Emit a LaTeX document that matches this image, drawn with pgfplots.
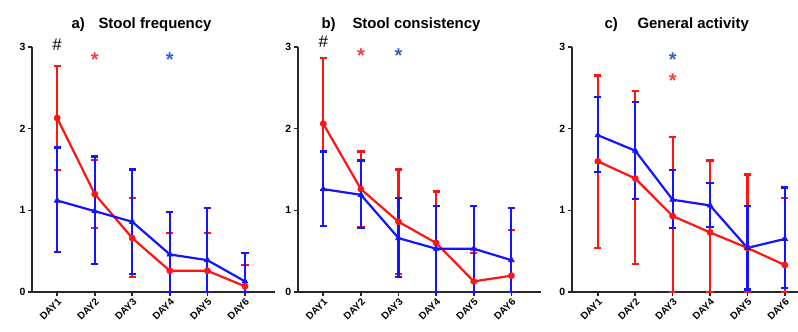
\documentclass[border=0pt]{standalone}
\usepackage{pgfplots}
\pgfplotsset{compat=1.18}
\usepackage{pgfplotstable}
\usepackage{fontspec}
\setmainfont{Liberation Sans}
\definecolor{pred}{RGB}{255,20,20}
\definecolor{pblue}{RGB}{20,20,255}
\definecolor{sblue}{RGB}{50,100,200}
\definecolor{sred}{RGB}{250,60,60}
\definecolor{axgray}{RGB}{40,40,40}

% x y plus minus
\pgfplotstableread{
x y ep em
1 2.13 0.64 0.64
2 1.20 0.42 0.42
3 0.66 0.49 0.48
4 0.26 0.46 0.26
5 0.26 0.46 0.26
6 0.07 0.26 0.07
}\aRed
\pgfplotstableread{
x y ep em
1 1.12 0.65 0.63
2 0.99 0.67 0.65
3 0.86 0.64 0.64
4 0.46 0.52 0.46
5 0.39 0.64 0.39
6 0.13 0.35 0.13
}\aBlue
\pgfplotstableread{
x y ep em
1 2.06 0.81 0.81
2 1.26 0.46 0.46
3 0.86 0.64 0.64
4 0.60 0.63 0.60
5 0.13 0.35 0.13
6 0.20 0.56 0.20
}\bRed
\pgfplotstableread{
x y ep em
1 1.26 0.46 0.45
2 1.19 0.42 0.41
3 0.66 0.49 0.48
4 0.53 0.52 0.53
5 0.53 0.52 0.53
6 0.39 0.64 0.39
}\bBlue
\pgfplotstableread{
x y ep em
1 1.60 1.05 1.06
2 1.39 1.07 1.05
3 0.93 0.97 0.93
4 0.73 0.88 0.73
5 0.54 0.90 0.54
6 0.33 0.82 0.33
}\cRed
\pgfplotstableread{
x y ep em
1 1.92 0.47 0.45
2 1.73 0.60 0.59
3 1.13 0.36 0.35
4 1.06 0.27 0.26
5 0.54 0.51 0.51
6 0.65 0.63 0.60
}\cBlue

\pgfplotsset{
  panel/.style={
    scale only axis,
    width=243bp, height=245bp,
    anchor=south west,
    xmin=0.33, xmax=6.8, ymin=0, ymax=3,
    axis x line*=bottom, axis y line*=left,
    axis line style={axgray, line width=1.8bp},
    every tick/.style={axgray, line width=1.6bp},
    tick align=outside,
    major tick length=4bp,
    xtick={1,...,6},
    xticklabels={DAY1,DAY2,DAY3,DAY4,DAY5,DAY6},
    ytick={0,1,2,3},
    /pgf/number format/assume math mode=true,
    yticklabel style={font=\bfseries\fontsize{10.5}{10.5}\selectfont, xshift=1bp},
    xticklabel style={font=\bfseries\fontsize{10}{10}\selectfont, rotate=45, anchor=north east, inner sep=1bp},
    clip=false,
  },
  redser/.style={pred, line width=2.2bp, mark=*, mark size=3bp,
    mark options={fill=pred, draw=pred, line width=0.8bp},
    error bars/y dir=both, error bars/y explicit,
    error bars/error bar style={pred, line width=2.2bp},
    error bars/error mark options={rotate=90, mark size=3.6bp, pred, line width=2.2bp}},
  blueser/.style={pblue, line width=2.2bp, mark=triangle*, mark size=3.2bp,
    mark options={fill=pblue, draw=pblue, line width=0.8bp},
    error bars/y dir=both, error bars/y explicit,
    error bars/error bar style={pblue, line width=2.2bp},
    error bars/error mark options={rotate=90, mark size=3.6bp, pblue, line width=2.2bp}},
}

\begin{document}
\begin{tikzpicture}[x=1bp,y=1bp]
\useasboundingbox (0,0) rectangle (798,331);

% panel a
\begin{axis}[panel, at={(32bp,39bp)}]
\addplot[redser] table[x=x, y=y, y error plus=ep, y error minus=em]{\aRed};
\addplot[blueser] table[x=x, y=y, y error plus=ep, y error minus=em]{\aBlue};
\node[font=\fontsize{17}{17}\selectfont] at (axis cs:1,3.03) {\#};
\node[font=\bfseries\fontsize{20}{20}\selectfont, text=sred] at (axis cs:2,2.84) {*};
\node[font=\bfseries\fontsize{20}{20}\selectfont, text=sblue] at (axis cs:4,2.84) {*};
\end{axis}

% panel b
\begin{axis}[panel, at={(297.7bp,39bp)}, xmin=0.32, xmax=6.78]
\addplot[redser] table[x=x, y=y, y error plus=ep, y error minus=em]{\bRed};
\addplot[blueser] table[x=x, y=y, y error plus=ep, y error minus=em]{\bBlue};
\node[font=\fontsize{17}{17}\selectfont] at (axis cs:1,3.06) {\#};
\node[font=\bfseries\fontsize{20}{20}\selectfont, text=sred] at (axis cs:2,2.90) {*};
\node[font=\bfseries\fontsize{20}{20}\selectfont, text=sblue] at (axis cs:3,2.90) {*};
\end{axis}

% panel c
\begin{axis}[panel, at={(571.7bp,39bp)}, xmin=0.3, xmax=6.8]
\addplot[redser] table[x=x, y=y, y error plus=ep, y error minus=em]{\cRed};
\addplot[blueser] table[x=x, y=y, y error plus=ep, y error minus=em]{\cBlue};
\node[font=\bfseries\fontsize{20}{20}\selectfont, text=sblue] at (axis cs:3,2.84) {*};
\node[font=\bfseries\fontsize{20}{20}\selectfont, text=sred] at (axis cs:3,2.59) {*};
\end{axis}

% titles
\node[font=\bfseries\fontsize{15}{15}\selectfont, anchor=base west] at (68,303) {a)};
\node[font=\bfseries\fontsize{15}{15}\selectfont, anchor=base west] at (95,303) {Stool frequency};
\node[font=\bfseries\fontsize{15}{15}\selectfont, anchor=base west] at (318,303) {b)};
\node[font=\bfseries\fontsize{15}{15}\selectfont, anchor=base west] at (349,303) {Stool consistency};
\node[font=\bfseries\fontsize{15}{15}\selectfont, anchor=base west] at (601,303) {c)};
\node[font=\bfseries\fontsize{15}{15}\selectfont, anchor=base west] at (634,303) {General activity};
\end{tikzpicture}
\end{document}
